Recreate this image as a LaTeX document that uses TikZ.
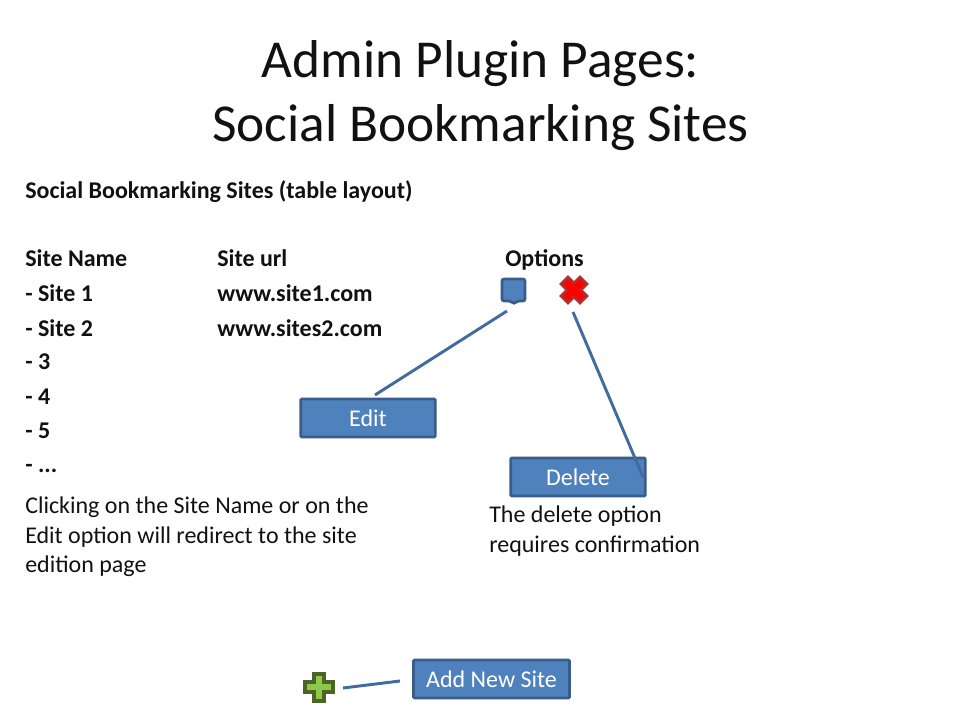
\documentclass[tikz,border=0pt]{standalone}
\usepackage{fontspec}
\setmainfont{Carlito}
\definecolor{accent}{HTML}{4F81BD}
\definecolor{accentdark}{HTML}{385D8A}
\definecolor{linkblue}{HTML}{426C9E}
\definecolor{inktext}{HTML}{111111}
\definecolor{xred}{HTML}{FF0000}
\definecolor{xedge}{HTML}{B03030}
\definecolor{plusfill}{HTML}{8CC84B}
\definecolor{plusedge}{HTML}{4F6228}
\tikzset{x=0.75pt,y=-0.75pt,
  btn/.style={draw=accentdark,line width=2pt,fill=accent,text=white,minimum height=28.5pt,inner sep=0pt,rounded corners=0.8pt,font=\fontsize{18}{22}\selectfont,anchor=center},
  link/.style={draw=linkblue,line width=2.2pt},
  txt/.style={anchor=base west,inner sep=0pt,text=inktext,font=\fontsize{18}{22}\selectfont},
  btxt/.style={txt,font=\fontsize{18}{22}\selectfont\bfseries},
  note/.style={anchor=west,inner sep=0pt,text=inktext,align=left,font=\fontsize{18}{22}\selectfont}}
\begin{document}
\begin{tikzpicture}
\useasboundingbox (0,0) rectangle (960,720);
\fill[white] (0,0) rectangle (960,720);
\node[anchor=center,inner sep=0pt,text=inktext,align=center,font=\fontsize{40}{48}\selectfont] (title) at (480.5,96) {Admin Plugin Pages:\\Social Bookmarking Sites};
\node[btxt] (head) at (25,199) {Social Bookmarking Sites (table layout)};
\node[btxt] (c1) at (25,267) {Site Name};
\node[btxt] (c2) at (217,267) {Site url};
\node[btxt] (c3) at (505,267) {Options};
\node[btxt] (r1) at (25,301) {- Site 1};
\node[btxt] (u1) at (217,301) {www.site1.com};
\node[btxt] (r2) at (25,336) {- Site 2};
\node[btxt] (u2) at (217,336) {www.sites2.com};
\node[btxt] (r3) at (25,369) {- 3};
\node[btxt] (r4) at (25,404) {- 4};
\node[btxt] (r5) at (25,438) {- 5};
\node[btxt] (r6) at (25,472) {- ...};
\node[note] (note1) at (25,537) {Clicking on the Site Name or on the\\Edit option will redirect to the site\\edition page};
\node[note] (note2) at (489,531) {The delete option\\requires confirmation};
\node[btn,minimum width=101pt] (edit) at (368,418) {Edit};
\node[btn,minimum width=101pt] (del) at (578,477) {Delete};
\node[btn,minimum width=117pt] (add) at (491.5,679) {Add New Site};
\coordinate (e1) at (507,311); \coordinate (e2) at (375,395);
\coordinate (d1) at (573,312); \coordinate (d2) at (643,477);
\coordinate (a1) at (343,688); \coordinate (a2) at (400,681);
\draw[link] (e1) -- (e2);
\draw[link] (d1) -- (d2);
\draw[link] (a1) -- (a2);
\draw[accentdark,line width=2pt,fill=accent,rounded corners=1.5pt] (502,279) -- (525,279) -- (525,301) -- (517,301) -- (514,304) -- (511,301) -- (502,301) -- cycle;
\draw[fill=xred,draw=xedge,line width=2pt] (568,277) -- (574,283) -- (580,277) -- (587,284) -- (581,290) -- (587,296) -- (580,303) -- (574,297) -- (568,303) -- (561,296) -- (567,290) -- (561,284) -- cycle;
\draw[fill=plusfill,draw=plusedge,line width=2.5pt] (314,674) -- (324,674) -- (324,682) -- (333,682) -- (333,692) -- (324,692) -- (324,701) -- (314,701) -- (314,692) -- (305,692) -- (305,682) -- (314,682) -- cycle;
\end{tikzpicture}
\end{document}
